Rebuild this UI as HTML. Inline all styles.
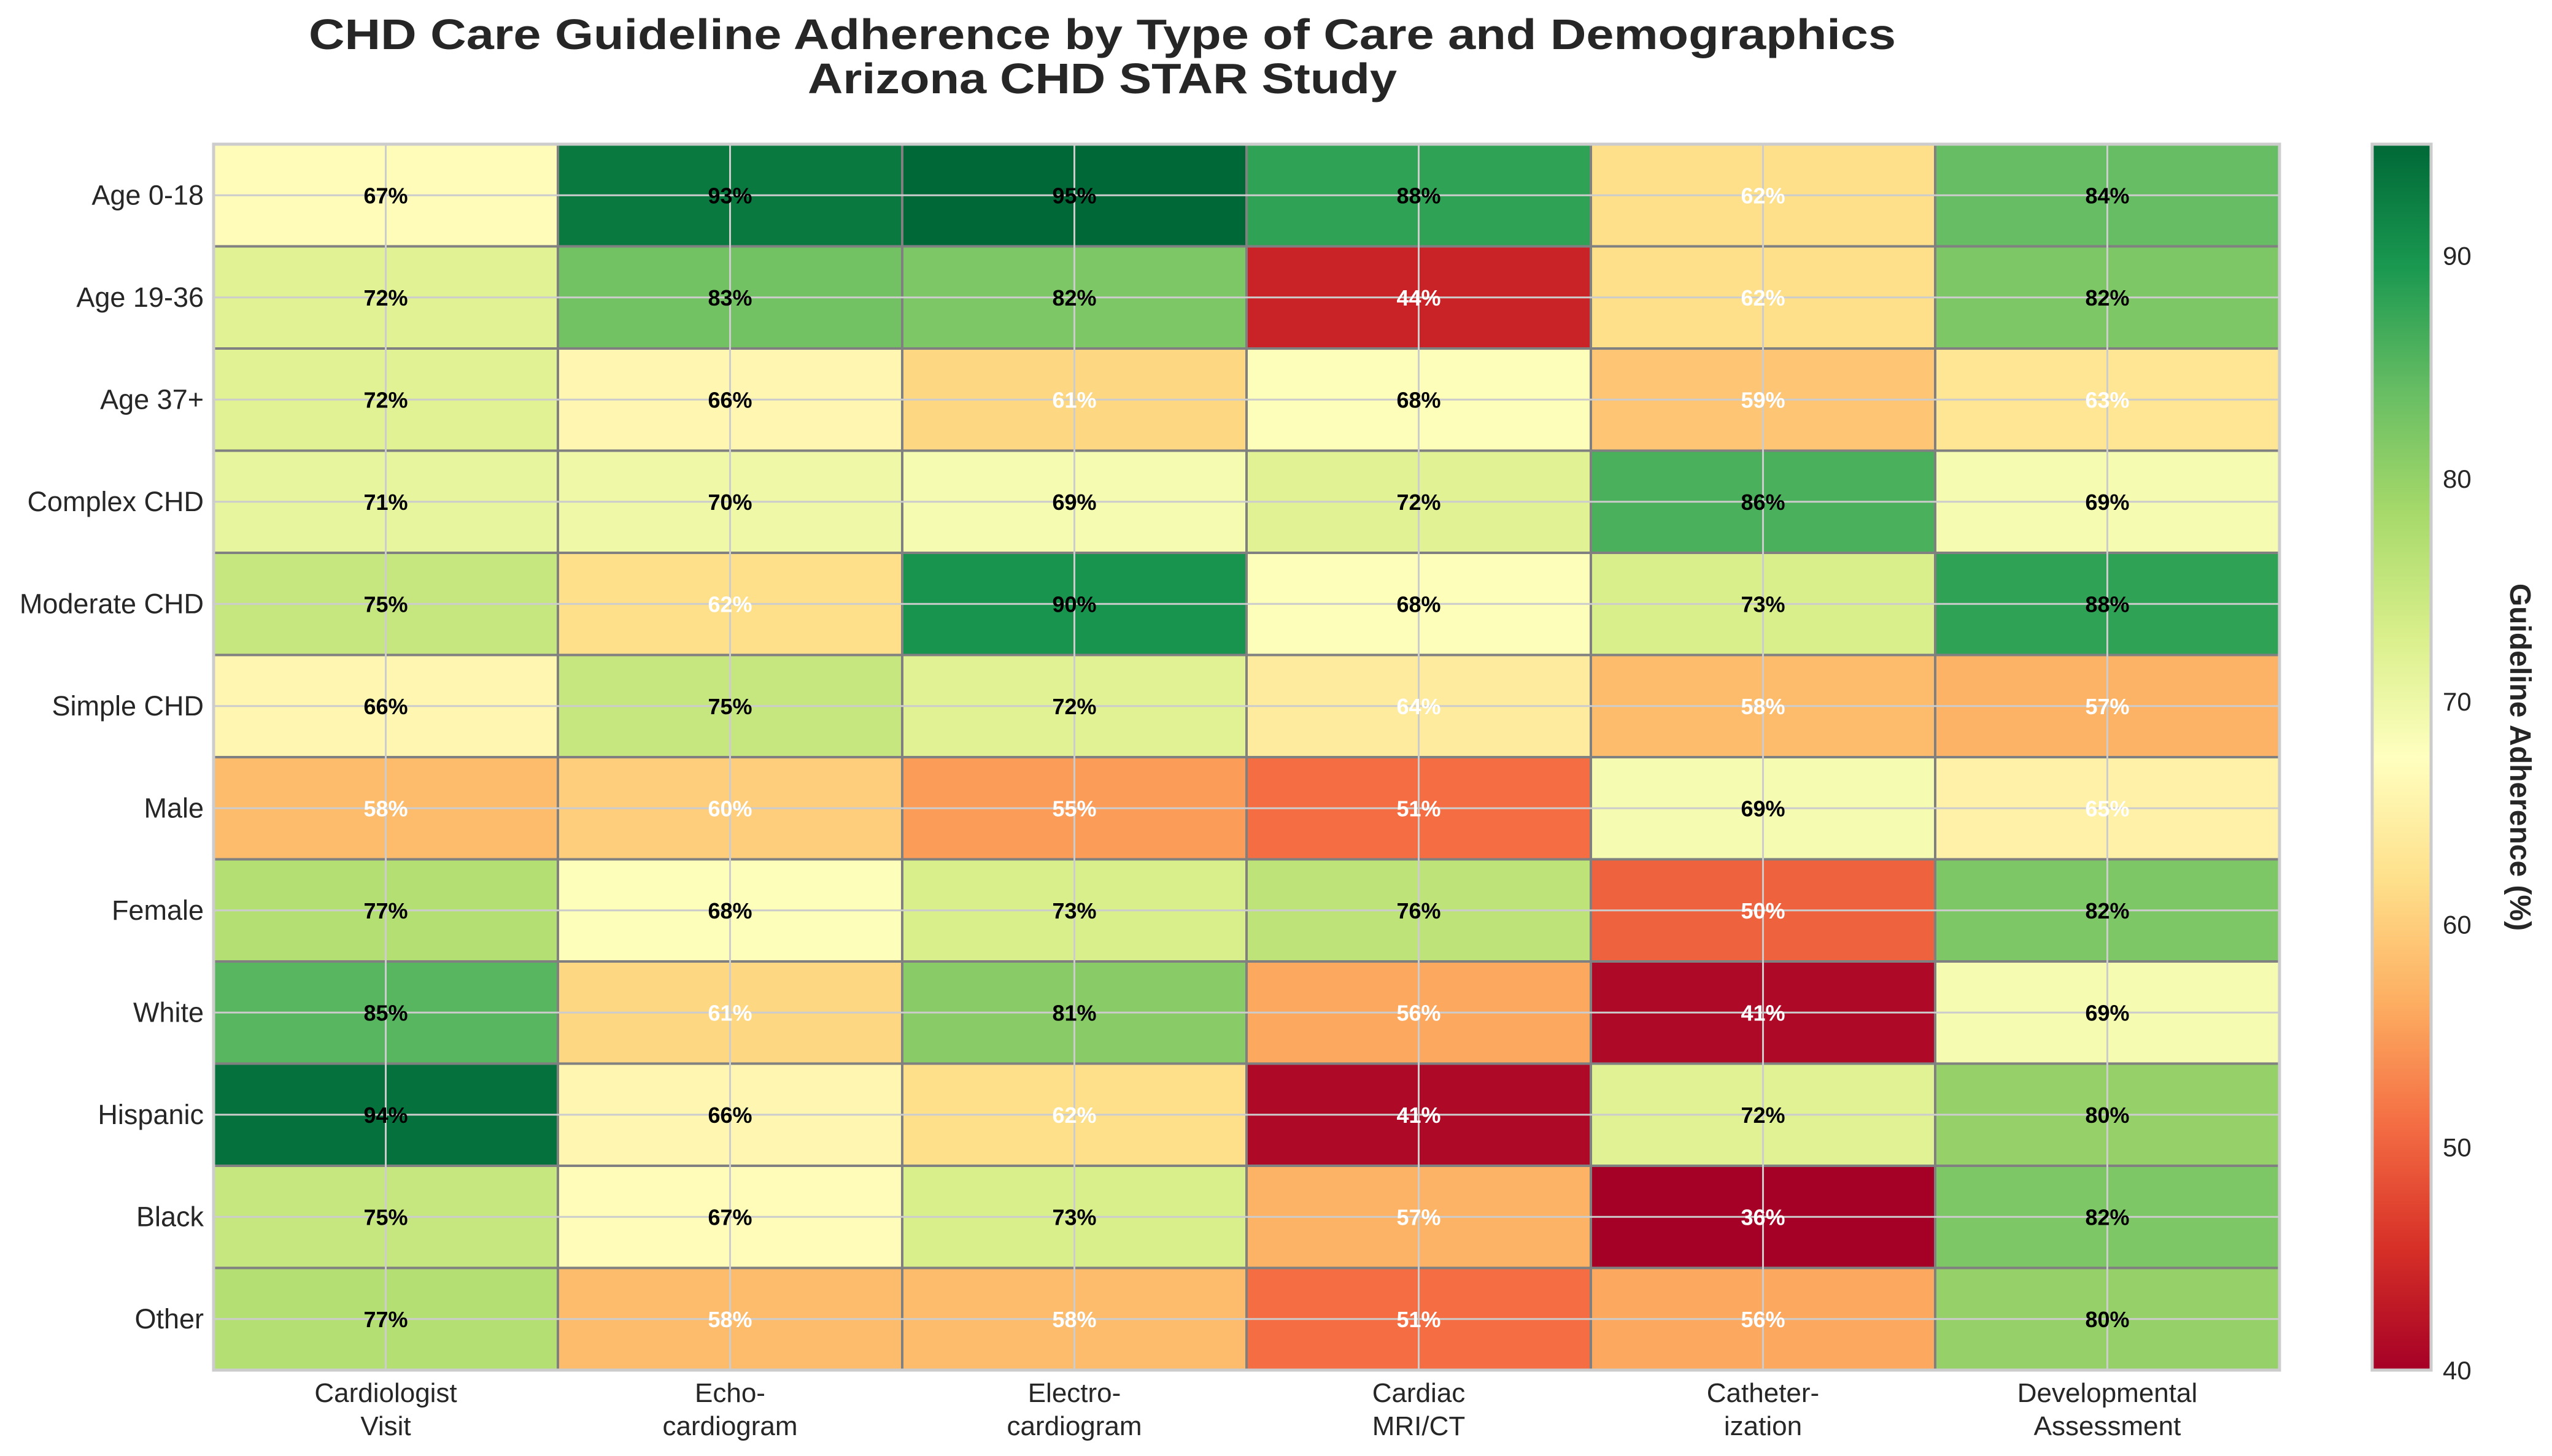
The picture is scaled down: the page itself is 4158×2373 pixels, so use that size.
<!DOCTYPE html>
<html><head><meta charset="utf-8"><style>
html,body{margin:0;padding:0;background:#fff;}
svg{display:block;font-family:"Liberation Sans",Arial,sans-serif;}
</style></head><body>
<svg id="chart" width="4158" height="2373" viewBox="0 0 4158 2373" xmlns="http://www.w3.org/2000/svg">
<defs>
<linearGradient id="cbgrad" x1="0" y1="1" x2="0" y2="0">
<stop offset="0" stop-color="#a50026"/><stop offset="0.1" stop-color="#d73027"/><stop offset="0.2" stop-color="#f46d43"/><stop offset="0.3" stop-color="#fdae61"/><stop offset="0.4" stop-color="#fee08b"/><stop offset="0.5" stop-color="#ffffbf"/><stop offset="0.6" stop-color="#d9ef8b"/><stop offset="0.7" stop-color="#a6d96a"/><stop offset="0.8" stop-color="#66bd63"/><stop offset="0.9" stop-color="#1a9850"/><stop offset="1" stop-color="#006837"/>
</linearGradient>
</defs>
<text x="1796" y="80" text-anchor="middle" font-size="70" font-weight="bold" fill="#262626" textLength="2586" lengthAdjust="spacingAndGlyphs">CHD Care Guideline Adherence by Type of Care and Demographics</text>
<text x="1796" y="152" text-anchor="middle" font-size="70" font-weight="bold" fill="#262626" textLength="960" lengthAdjust="spacingAndGlyphs">Arizona CHD STAR Study</text>
<g id="cells"></g>
<g id="grid"></g>
<g id="labels"></g>
<rect x="348" y="235" width="3366" height="1998" fill="none" stroke="#cccccc" stroke-width="5"/>
<rect x="3865" y="235" width="96" height="1998" fill="url(#cbgrad)" stroke="#cccccc" stroke-width="5"/>
<g id="cbticks"></g>
<text transform="translate(4090,1234) rotate(90)" text-anchor="middle" font-size="48" font-weight="bold" fill="#262626">Guideline Adherence (%)</text>
</svg>
<script>
const rows = ["Age 0-18","Age 19-36","Age 37+","Complex CHD","Moderate CHD","Simple CHD","Male","Female","White","Hispanic","Black","Other"];
const cols = [["Cardiologist","Visit"],["Echo-","cardiogram"],["Electro-","cardiogram"],["Cardiac","MRI/CT"],["Catheter-","ization"],["Developmental","Assessment"]];
const values = [
[67,93,95,88,62,84],
[72,83,82,44,62,82],
[72,66,61,68,59,63],
[71,70,69,72,86,69],
[75,62,90,68,73,88],
[66,75,72,64,58,57],
[58,60,55,51,69,65],
[77,68,73,76,50,82],
[85,61,81,56,41,69],
[94,66,62,41,72,80],
[75,67,73,57,36,82],
[77,58,58,51,56,80]];
const cbTicks = [40,50,60,70,80,90];
const vmin = 40, vmax = 95;

const NS="http://www.w3.org/2000/svg";
const L=348,T=235,W=3366,H=1998;
const cw=W/cols.length, rh=H/rows.length;
const xPos=i=>L+i*cw, yPos=j=>T+j*rh;
const stops=["#a50026","#d73027","#f46d43","#fdae61","#fee08b","#ffffbf","#d9ef8b","#a6d96a","#66bd63","#1a9850","#006837"].map(h=>[parseInt(h.slice(1,3),16),parseInt(h.slice(3,5),16),parseInt(h.slice(5,7),16)]);
function cmap(v){let t=Math.max(0,Math.min(1,(v-vmin)/(vmax-vmin)))*10;let i=Math.min(9,Math.floor(t));let f=t-i;const a=stops[i],b=stops[i+1];return "rgb("+a.map((c,k)=>Math.round(c+(b[k]-c)*f)).join(",")+")";}
function mk(tag,attrs,parent,txt){const e=document.createElementNS(NS,tag);for(const k in attrs)e.setAttribute(k,attrs[k]);if(txt!==undefined)e.textContent=txt;parent.appendChild(e);return e;}
const gc=document.getElementById("cells"),gg=document.getElementById("grid"),gl=document.getElementById("labels"),gt=document.getElementById("cbticks");
values.forEach((row,j)=>row.forEach((v,i)=>{
 const r=mk("rect",{x:xPos(i),y:yPos(j),width:cw,height:rh,fill:cmap(v),stroke:"#808080","stroke-width":4},gc);
 
 
}));
for(let i=0;i<cols.length;i++){const ln=mk("line",{x1:xPos(i)+cw/2,x2:xPos(i)+cw/2,y1:T,y2:T+H,stroke:"#cccccc","stroke-width":3},gg);
 
 }
for(let j=0;j<rows.length;j++){const ln=mk("line",{x1:L,x2:L+W,y1:yPos(j)+rh/2,y2:yPos(j)+rh/2,stroke:"#cccccc","stroke-width":3},gg);
 
 }
values.forEach((row,j)=>row.forEach((v,i)=>{
 const t=mk("text",{x:xPos(i)+cw/2,y:yPos(j)+rh/2+13,"text-anchor":"middle","font-size":36,"font-weight":"bold",fill:v<66?"#ffffff":"#000000"},gl,v+"%");
 
 
}));
rows.forEach((r,j)=>{const t=mk("text",{x:L-16,y:yPos(j)+rh/2+15,"text-anchor":"end","font-size":45,fill:"#262626"},gl,r);
 
 });
cols.forEach((c,i)=>{c.forEach((s,k)=>{const t=mk("text",{x:xPos(i)+cw/2,y:2285+k*54,"text-anchor":"middle","font-size":44,fill:"#262626"},gl,s);
 
 });});
cbTicks.forEach(v=>{const y=T+H-(v-vmin)/(vmax-vmin)*H;const t=mk("text",{x:3980,y:y+15,"font-size":42,fill:"#262626"},gt,v);
 
 });
</script>
</body></html>
